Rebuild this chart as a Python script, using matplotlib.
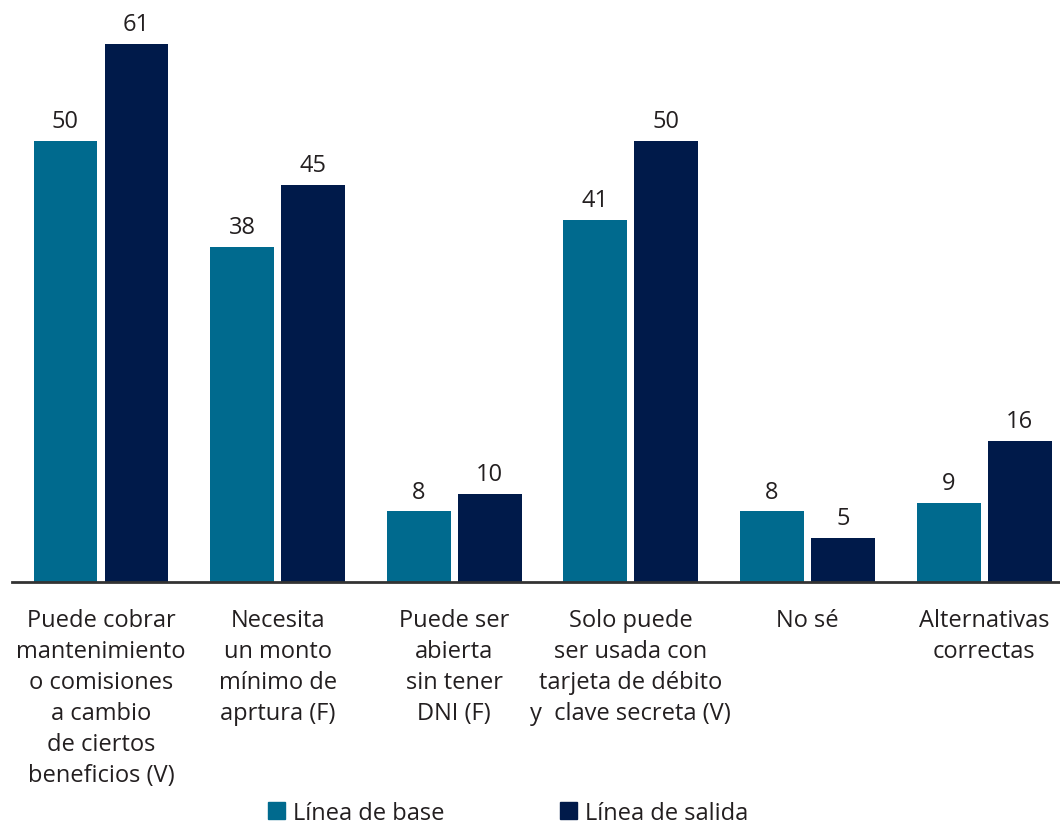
import matplotlib.pyplot as plt
import numpy as np
from matplotlib.patches import Patch

plt.rcParams['font.family'] = ['Open Sans', 'DejaVu Sans']

categories = [
    "Puede cobrar\nmantenimiento\no comisiones\na cambio\nde ciertos\nbeneficios (V)",
    "Necesita\nun monto\nmínimo de\naprtura (F)",
    "Puede ser\nabierta\nsin tener\nDNI (F)",
    "Solo puede\nser usada con\ntarjeta de débito\ny  clave secreta (V)",
    "No sé",
    "Alternativas\ncorrectas",
]
linea_base = [50, 38, 8, 41, 8, 9]
linea_salida = [61, 45, 10, 50, 5, 16]
series_names = ["Línea de base", "Línea de salida"]

teal = "#006A8E"
navy = "#001A4A"
text_color = "#231F20"

fig = plt.figure(figsize=(10.6, 8.28), dpi=100)
ax = fig.add_axes([0.0113, 0.2959, 0.9887, 0.704])

x = np.arange(len(categories))
w = 0.362
off = 0.201

b1 = ax.bar(x - off, linea_base, w, color=teal)
b2 = ax.bar(x + off, linea_salida, w, color=navy)

for bars, vals in ((b1, linea_base), (b2, linea_salida)):
    for bar, v in zip(bars, vals):
        ax.text(bar.get_x() + bar.get_width() / 2, v + 0.9, str(v),
                ha='center', va='bottom', fontsize=17, color=text_color)

ax.set_xlim(-0.504, 5.43)
ax.set_ylim(0, 66.1)
for s in ['top', 'right', 'left']:
    ax.spines[s].set_visible(False)
ax.spines['bottom'].set_color('#333333')
ax.spines['bottom'].set_linewidth(2)
ax.set_yticks([])
ax.set_xticks(x)
ax.set_xticklabels(categories, fontsize=17, color=text_color, linespacing=1.38)
ax.tick_params(axis='x', length=0, pad=19)

handles = [Patch(color=teal), Patch(color=navy)]
fig.legend(handles, series_names, loc='center', bbox_to_anchor=(0.479, 0.017),
           ncol=2, frameon=False, fontsize=17, handlelength=0.75, handleheight=0.75,
           handletextpad=0.3, columnspacing=4.9, labelcolor=text_color,
           borderpad=0.1)

fig.savefig("out.png", dpi=100)
